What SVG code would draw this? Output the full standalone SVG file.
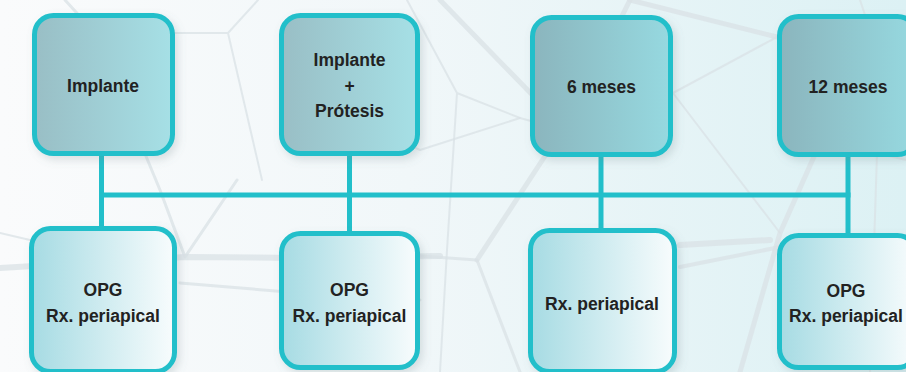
<svg xmlns="http://www.w3.org/2000/svg" width="906" height="372" viewBox="0 0 906 372">
  <defs>
    <linearGradient id="bg" x1="0" y1="0" x2="1" y2="0">
      <stop offset="0" stop-color="#fafbfc"/>
      <stop offset="0.45" stop-color="#f1f7f9"/>
      <stop offset="1" stop-color="#dcf1f4"/>
    </linearGradient>
    <linearGradient id="topFill" x1="0" y1="0" x2="1" y2="0">
      <stop offset="0" stop-color="#99bec5"/>
      <stop offset="1" stop-color="#a6e0e6"/>
    </linearGradient>
    <linearGradient id="topFillDark" x1="0" y1="0" x2="1" y2="0">
      <stop offset="0" stop-color="#8bb5bd"/>
      <stop offset="1" stop-color="#96d9e0"/>
    </linearGradient>
    <linearGradient id="botFill" x1="0" y1="0" x2="1" y2="0">
      <stop offset="0" stop-color="#a6dbe3"/>
      <stop offset="1" stop-color="#f8fcfd"/>
    </linearGradient>
    <filter id="shadow" x="-20%" y="-20%" width="140%" height="140%">
      <feDropShadow dx="3" dy="4" stdDeviation="4" flood-color="#6a7f86" flood-opacity="0.22"/>
    </filter>
    <style>
      .box { stroke: #22bfca; stroke-width: 5; filter: url(#shadow); }
      .top { fill: url(#topFill); }
      .topd { fill: url(#topFillDark); }
      .bot { fill: url(#botFill); }
      .lbl { font-family: "Liberation Sans", Arial, sans-serif; font-weight: bold; font-size: 17.5px; fill: #222; text-anchor: middle; }
      .net { fill: none; stroke: #d9e2e6; stroke-linecap: round; stroke-linejoin: round; opacity: 0.75; }
      .conn { stroke: #22bfca; stroke-width: 5; fill: none; }
    </style>
  </defs>

  <rect x="0" y="0" width="906" height="372" fill="url(#bg)"/>

  <g id="background-network">
    <path class="net" stroke-width="3" d="M65 0 L95 33 L160 190 L185 257 L237 180"/>
    <path class="net" stroke-width="2" d="M95 33 L228 33 L258 0 M228 33 L262 180"/>
    <path class="net" stroke-width="6" d="M0 268 L185 257 L300 258 L440 256"/>
    <path class="net" stroke-width="3" d="M180 283 L300 293 L420 300"/>
    <path class="net" stroke-width="2" d="M0 233 L30 240"/>
    <path class="net" stroke-width="2" d="M407 0 L457 93 L520 118 L600 140 M457 93 L447 250 L440 372"/>
    <path class="net" stroke-width="5" d="M440 0 L547 110"/>
    <path class="net" stroke-width="5" d="M477 260 L547 153 L600 60 L630 0"/>
    <path class="net" stroke-width="3" d="M420 256 L477 260 L520 372"/>
    <path class="net" stroke-width="2" d="M300 95 L420 150 L520 118"/>
    <path class="net" stroke-width="5" d="M630 0 L777 37 L906 75"/>
    <path class="net" stroke-width="2" d="M600 67 L673 93 L777 37 M673 93 L780 233 M673 93 L600 150"/>
    <path class="net" stroke-width="5" d="M857 60 L780 233 L740 372"/>
    <path class="net" stroke-width="4" d="M680 267 L780 247 L906 255"/>
    <path class="net" stroke-width="6" d="M680 245 L770 240"/>
    <path class="net" stroke-width="2" d="M780 130 L906 160 M860 0 L880 60 L870 372"/>
  </g>

  <g id="connectors">
    <line class="conn" x1="101.5" y1="154" x2="101.5" y2="230"/>
    <line class="conn" x1="349.5" y1="154" x2="349.5" y2="235"/>
    <line class="conn" x1="601" y1="155" x2="601" y2="232"/>
    <line class="conn" x1="848" y1="155" x2="848" y2="237"/>
    <line class="conn" x1="99" y1="195" x2="850.5" y2="195"/>
  </g>

  <g id="node-implante">
    <rect class="box top" x="34.5" y="15.5" width="138" height="138" rx="19"/>
    <text class="lbl" x="103" y="92">Implante</text>
  </g>
  <g id="node-implante-protesis">
    <rect class="box top" x="281.5" y="15.5" width="136" height="138" rx="19"/>
    <text class="lbl" x="349.5" y="66">Implante</text>
    <text class="lbl" x="349.5" y="92">+</text>
    <text class="lbl" x="349.5" y="117">Prótesis</text>
  </g>
  <g id="node-6-meses">
    <rect class="box topd" x="532.5" y="17.5" width="138" height="137" rx="19"/>
    <text class="lbl" x="601.5" y="93">6 meses</text>
  </g>
  <g id="node-12-meses">
    <rect class="box topd" x="779.5" y="16.5" width="137" height="138" rx="19"/>
    <text class="lbl" x="848" y="93">12 meses</text>
  </g>

  <g id="node-opg-1">
    <rect class="box bot" x="31.5" y="228.5" width="143" height="143" rx="19"/>
    <text class="lbl" x="103" y="296">OPG</text>
    <text class="lbl" x="103" y="322">Rx. periapical</text>
  </g>
  <g id="node-opg-2">
    <rect class="box bot" x="281.5" y="233.5" width="136" height="134" rx="19"/>
    <text class="lbl" x="349.5" y="296">OPG</text>
    <text class="lbl" x="349.5" y="322">Rx. periapical</text>
  </g>
  <g id="node-rx-6">
    <rect class="box bot" x="530.5" y="230.5" width="144" height="141" rx="19"/>
    <text class="lbl" x="602" y="310">Rx. periapical</text>
  </g>
  <g id="node-opg-12">
    <rect class="box bot" x="779.5" y="235.5" width="137" height="132" rx="19"/>
    <text class="lbl" x="846" y="297">OPG</text>
    <text class="lbl" x="846" y="322">Rx. periapical</text>
  </g>
</svg>
